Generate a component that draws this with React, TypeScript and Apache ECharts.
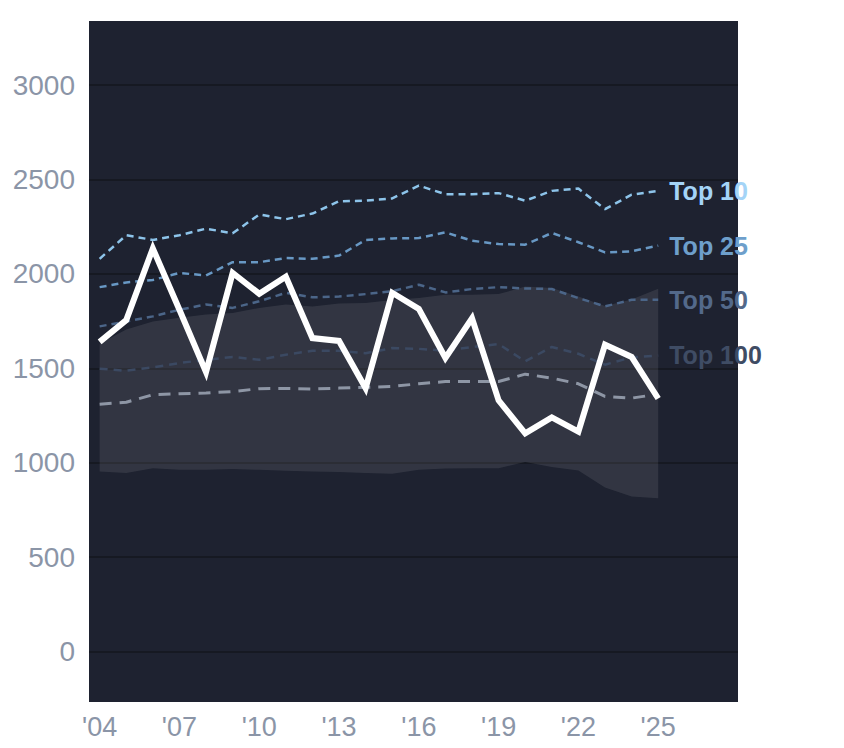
import React, { useEffect, useRef } from "react";
import * as echarts from "echarts";

const years = [2004, 2005, 2006, 2007, 2008, 2009, 2010, 2011, 2012, 2013, 2014, 2015, 2016, 2017, 2018, 2019, 2020, 2021, 2022, 2023, 2024, 2025];
const mainValues = [1640, 1755, 2135, 1810, 1480, 2005, 1895, 1985, 1660, 1645, 1395, 1900, 1815, 1555, 1765, 1330, 1155, 1240, 1165, 1625, 1560, 1340];
const top10 = [2080, 2205, 2180, 2205, 2240, 2215, 2315, 2290, 2320, 2385, 2388, 2400, 2468, 2422, 2422, 2428, 2388, 2440, 2452, 2343, 2420, 2440];
const top25 = [1930, 1955, 1968, 2005, 1992, 2062, 2062, 2084, 2080, 2097, 2180, 2188, 2190, 2220, 2176, 2158, 2155, 2217, 2168, 2114, 2120, 2150];
const top50 = [1722, 1748, 1775, 1810, 1838, 1820, 1855, 1900, 1876, 1880, 1893, 1908, 1943, 1902, 1920, 1930, 1923, 1920, 1872, 1828, 1863, 1863];
const top100 = [1498, 1487, 1505, 1528, 1545, 1560, 1545, 1572, 1593, 1593, 1580, 1607, 1603, 1593, 1613, 1628, 1537, 1613, 1577, 1519, 1558, 1568];
const median = [1310, 1320, 1360, 1365, 1369, 1377, 1392, 1393, 1390, 1395, 1399, 1404, 1418, 1430, 1430, 1430, 1469, 1448, 1418, 1351, 1342, 1363];
const bandHigh = [1630, 1705, 1748, 1768, 1785, 1793, 1820, 1838, 1828, 1843, 1846, 1862, 1872, 1890, 1890, 1893, 1933, 1925, 1880, 1830, 1865, 1922];
const bandLow = [953, 945, 971, 962, 962, 966, 962, 957, 953, 950, 945, 941, 962, 969, 971, 971, 1003, 977, 959, 869, 821, 812];
const topLabels = ["Top 10", "Top 25", "Top 50", "Top 100"];

const FONT = "'Liberation Sans', Arial, Helvetica, sans-serif";

export default function App() {
  const ref = useRef<HTMLDivElement>(null);
  useEffect(() => {
    document.body.style.margin = "0";
    if (!ref.current) return;
    const chart = echarts.init(ref.current, undefined, { renderer: "svg" });
    const pair = (arr: number[]) => years.map((y, i) => [y, arr[i]]);
    const tierLine = (name: string, arr: number[], color: string, labelColor: string, dash: number[], width: number) => ({
      type: "line",
      name,
      data: pair(arr),
      symbol: "none",
      lineStyle: { color, width, type: dash },
      z: 3,
      endLabel: {
        show: true,
        formatter: () => name,
        color: labelColor,
        fontSize: 25,
        fontWeight: "bold",
        fontFamily: FONT,
        distance: 11,
      },
    });
    chart.setOption({
      animation: false,
      grid: {
        left: 89,
        right: 106,
        top: 21,
        bottom: 46,
        show: true,
        backgroundColor: "#1e2230",
        borderWidth: 0,
      },
      xAxis: {
        type: "value",
        min: 2003.6,
        max: 2028,
        splitNumber: 24,
        axisLine: { show: false },
        axisTick: { show: false },
        splitLine: { show: false },
        axisLabel: {
          color: "#8b95a7",
          fontSize: 27,
          fontFamily: FONT,
          margin: 11,
          formatter: (v: number) =>
            Number.isInteger(v) && v <= 2025 && (v - 2004) % 3 === 0 ? "'" + String(v).slice(2) : "",
        },
      },
      yAxis: {
        type: "value",
        min: -268,
        max: 3340,
        splitNumber: 7,
        axisLine: { show: false },
        axisTick: { show: false },
        splitLine: { lineStyle: { color: "#161922", width: 2 }, showMinLine: false, showMaxLine: false },
        axisLabel: {
          color: "#8b95a7",
          fontSize: 28,
          fontFamily: FONT,
          margin: 14,
          formatter: (v: number) => (v % 500 === 0 ? String(v) : ""),
        },
      },
      series: [
        {
          type: "custom",
          name: "band",
          data: pair(bandHigh),
          encode: { x: 0, y: 1 },
          z: 1,
          renderItem: (params: any, api: any) => {
            if (params.dataIndex !== 0) return null;
            const pts: number[][] = [];
            for (let i = 0; i < years.length; i++) pts.push(api.coord([years[i], bandHigh[i]]));
            for (let i = years.length - 1; i >= 0; i--) pts.push(api.coord([years[i], bandLow[i]]));
            return {
              type: "polygon",
              shape: { points: pts },
              style: { fill: "rgba(255,255,255,0.09)", stroke: "none" },
            };
          },
        },
        {
          type: "line",
          name: "median",
          data: pair(median),
          symbol: "none",
          lineStyle: { color: "#8e96a5", width: 3, type: [12, 8] },
          z: 2,
        },
        tierLine(topLabels[3], top100, "#3b4962", "#3f4c64", [8, 6], 2.5),
        tierLine(topLabels[2], top50, "#4b6588", "#53698a", [7, 5], 2.5),
        tierLine(topLabels[1], top25, "#6898c4", "#6e9fcb", [7, 5], 2.5),
        tierLine(topLabels[0], top10, "#8dc4ea", "#a4d4f7", [7, 5], 2.5),
        {
          type: "line",
          name: "main",
          data: pair(mainValues),
          symbol: "none",
          lineStyle: { color: "#ffffff", width: 6, join: "miter", cap: "butt" },
          z: 5,
        },
      ],
    });
    return () => chart.dispose();
  }, []);
  return <div ref={ref} style={{ width: 844, height: 748 }} />;
}
